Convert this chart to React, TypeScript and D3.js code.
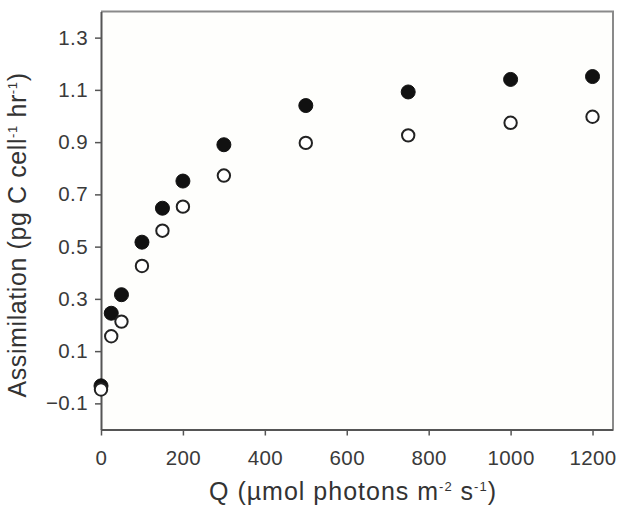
import { useEffect, useRef } from 'react';
import * as d3 from 'd3';

// light levels (Q) and the two assimilation series
const qLevels = [0, 25, 50, 100, 150, 200, 300, 500, 750, 1000, 1200];
const filledSeries = [-0.033, 0.245, 0.316, 0.517, 0.647, 0.751, 0.89, 1.04, 1.092, 1.14, 1.151];
const openSeries = [-0.047, 0.157, 0.213, 0.426, 0.561, 0.653, 0.772, 0.897, 0.926, 0.974, 0.997];
const xTicks = [0, 200, 400, 600, 800, 1000, 1200];
const yTicks = [-0.1, 0.1, 0.3, 0.5, 0.7, 0.9, 1.1, 1.3];

const W = 618;
const H = 512;

export default function App() {
  const ref = useRef<SVGSVGElement | null>(null);

  useEffect(() => {
    if (!ref.current) return;
    const svg = d3.select(ref.current);
    svg.selectAll('*').remove();

    const margin = { top: 11.5, right: 5, bottom: 82.5, left: 101 };
    const x = d3.scaleLinear().domain([0, 1250]).range([margin.left, W - margin.right]);
    const y = d3.scaleLinear().domain([-0.2, 1.4]).range([H - margin.bottom, margin.top]);
    const font = 'Arial, "Liberation Sans", Helvetica, sans-serif';

    // plot area background
    svg.append('rect')
      .attr('x', x(0)).attr('y', y(1.4))
      .attr('width', x(1250) - x(0)).attr('height', y(-0.2) - y(1.4))
      .attr('fill', '#fefefc');

    // top and right frame lines (lighter)
    svg.append('path')
      .attr('d', `M${x(0)},${y(1.4)}H${x(1250)}V${y(-0.2)}`)
      .attr('fill', 'none').attr('stroke', '#8a8a8a').attr('stroke-width', 2);

    const xAxis = svg.append('g')
      .attr('transform', `translate(0,${y(-0.2)})`)
      .call(d3.axisBottom(x).tickValues(xTicks).tickSize(6).tickPadding(15).tickSizeOuter(0)
        .tickFormat(d => String(d)));
    const yAxis = svg.append('g')
      .attr('transform', `translate(${x(0)},0)`)
      .call(d3.axisLeft(y).tickValues(yTicks).tickSize(6).tickPadding(7).tickSizeOuter(0)
        .tickFormat(d => d3.format('.1f')(d as number)));

    [xAxis, yAxis].forEach(g => {
      g.select('.domain').attr('stroke', '#555').attr('stroke-width', 2);
      g.selectAll('.tick line').attr('stroke', '#555').attr('stroke-width', 1.5);
      g.selectAll('.tick text')
        .attr('fill', '#3a3a3a').style('font-family', font).style('font-size', '20.5px')
        .style('letter-spacing', '0.4px');
    });

    // filled circles
    svg.append('g').selectAll('circle')
      .data(qLevels.map((q, i) => [q, filledSeries[i]]))
      .enter().append('circle')
      .attr('cx', d => x(d[0])).attr('cy', d => y(d[1]))
      .attr('r', 7).attr('fill', '#111').attr('stroke', '#111').attr('stroke-width', 1);

    // open circles
    svg.append('g').selectAll('circle')
      .data(qLevels.map((q, i) => [q, openSeries[i]]))
      .enter().append('circle')
      .attr('cx', d => x(d[0])).attr('cy', d => y(d[1]))
      .attr('r', 6.2).attr('fill', '#fff').attr('stroke', '#222').attr('stroke-width', 2);

    // axis titles
    const xt = svg.append('text')
      .attr('x', 353).attr('y', 500)
      .attr('text-anchor', 'middle')
      .attr('fill', '#333').style('font-family', font).style('font-size', '25px')
      .style('letter-spacing', '1px');
    xt.append('tspan').text('Q (µmol photons m');
    xt.append('tspan').attr('dy', -9).style('font-size', '13px').text('-2');
    xt.append('tspan').attr('dy', 9).text(' s');
    xt.append('tspan').attr('dy', -9).style('font-size', '13px').text('-1');
    xt.append('tspan').attr('dy', 9).text(')');

    const yt = svg.append('text')
      .attr('transform', `translate(26,235) rotate(-90)`)
      .attr('text-anchor', 'middle')
      .attr('fill', '#333').style('font-family', font).style('font-size', '25px')
      .style('letter-spacing', '0.6px');
    yt.append('tspan').text('Assimilation (pg C cell');
    yt.append('tspan').attr('dy', -9).style('font-size', '13px').text('-1');
    yt.append('tspan').attr('dy', 9).text(' hr');
    yt.append('tspan').attr('dy', -9).style('font-size', '13px').text('-1');
    yt.append('tspan').attr('dy', 9).text(')');
  }, []);

  return (
    <svg ref={ref} width={W} height={H}
      style={{ position: 'absolute', left: 0, top: 0, background: '#fff' }} />
  );
}
